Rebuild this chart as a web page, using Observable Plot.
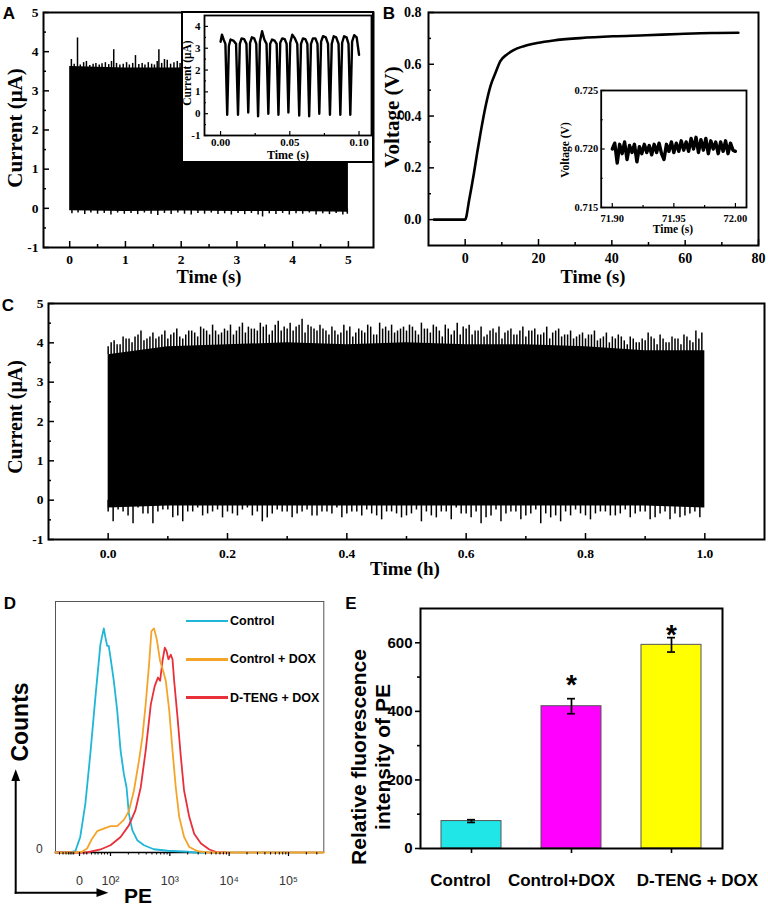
<!DOCTYPE html>
<html><head><meta charset="utf-8">
<script src="https://cdn.jsdelivr.net/npm/d3@7"></script>
<script src="https://cdn.jsdelivr.net/npm/@observablehq/plot@0.6"></script>
<style>
body{margin:0;background:#fff;}
#fig{position:relative;width:768px;height:905px;overflow:hidden;background:#fff;}
</style></head><body><div id="fig"></div>
<script>
// ---------------- DATA ----------------
// Panel A: 5 s current trace (envelope + spikes)
const aBaseT  = [0, 1, 2, 3, 4, 5];
const aBaseHi = [3.62, 3.58, 3.58, 3.60, 3.60, 3.60];
const aBaseLo = [-0.06, -0.08, -0.07, -0.08, -0.08, -0.10];
const aSpikesUp = [[0.03,3.80],[0.08,3.68],[0.14,4.35],[0.19,3.66],[0.25,3.72],[0.30,3.75],[0.36,3.65],[0.42,3.68],[0.47,3.70],[0.53,3.66],[0.58,3.69],[0.64,3.72],[0.70,3.67],[0.75,3.75],[0.79,4.05],[0.84,3.70],[0.90,3.66],[0.96,3.68],[1.02,3.72],[1.07,3.66],[1.13,3.70],[1.18,3.90],[1.24,3.67],[1.30,3.70],[1.35,3.66],[1.41,3.72],[1.47,3.68],[1.52,3.66],[1.57,3.75],[1.60,4.05],[1.65,3.70],[1.70,3.80],[1.75,3.78],[1.81,3.68],[1.87,3.72],[1.93,3.75],[1.98,3.70],[2.1,3.70],[2.3,3.68],[2.5,3.72],[2.7,3.70],[2.9,3.66],[3.1,3.70],[3.3,3.72],[3.5,3.68],[3.7,3.70],[3.9,3.66],[4.1,3.70],[4.3,3.72],[4.5,3.68],[4.7,3.70],[4.9,3.66]];
const aSpikesDn = [[0.04,-0.14],[0.15,-0.12],[0.27,-0.16],[0.38,-0.12],[0.5,-0.15],[0.62,-0.13],[0.74,-0.17],[0.86,-0.12],[0.98,-0.15],[1.1,-0.13],[1.22,-0.16],[1.34,-0.12],[1.46,-0.15],[1.58,-0.18],[1.7,-0.13],[1.82,-0.16],[1.94,-0.12],[2.06,-0.15],[2.18,-0.17],[2.3,-0.13],[2.42,-0.15],[2.54,-0.12],[2.66,-0.16],[2.78,-0.14],[2.9,-0.17],[3.02,-0.13],[3.14,-0.16],[3.26,-0.13],[3.38,-0.17],[3.46,-0.22],[3.58,-0.14],[3.7,-0.16],[3.82,-0.13],[3.94,-0.17],[4.06,-0.14],[4.18,-0.15],[4.3,-0.12],[4.42,-0.17],[4.54,-0.14],[4.66,-0.16],[4.78,-0.13],[4.9,-0.17],[4.98,-0.15]];
// Panel A inset: 0.1 s zoom
const aInT = [0.0000,0.0010,0.0022,0.0035,0.0048,0.0060,0.0072,0.0092,0.0112,0.0126,0.0139,0.0152,0.0170,0.0187,0.0200,0.0213,0.0226,0.0243,0.0258,0.0271,0.0284,0.0300,0.0316,0.0332,0.0345,0.0358,0.0372,0.0390,0.0405,0.0418,0.0431,0.0445,0.0463,0.0477,0.0490,0.0503,0.0518,0.0537,0.0554,0.0568,0.0581,0.0595,0.0612,0.0627,0.0640,0.0653,0.0667,0.0685,0.0700,0.0713,0.0726,0.0740,0.0760,0.0776,0.0790,0.0803,0.0817,0.0835,0.0852,0.0865,0.0878,0.0892,0.0910,0.0924,0.0937,0.0950,0.0965,0.0983,0.1000];
const aInI = [3.30,3.62,3.40,3.20,-0.05, 3.10,3.40,3.35,3.20,-0.05, 3.20,3.45,3.42,3.20,0.05, 3.25,3.50,3.45,3.20,-0.12, 3.30,3.78,3.40,3.20,0.00, 3.20,3.40,3.35,3.20,-0.05, 3.25,3.45,3.42,3.20,0.05, 3.25,3.62,3.45,3.20,-0.08, 3.20,3.45,3.42,3.20,-0.12, 3.20,3.45,3.45,3.20,0.00, 3.30,3.55,3.50,3.20,-0.05, 3.20,3.55,3.50,3.20,-0.05, 3.25,3.55,3.50,3.20,-0.05, 3.30,3.60,3.50,2.70];
// Panel B: voltage charging curve
const bT = [-8.5,-4,0,1.1,2.4,3.3,4.2,5.6,6.9,8.3,9.6,11.4,13.2,16,19.6,24.1,31.3,40.3,49.3,58.3,67.3,74.5];
const bV = [0,0,0,0.077,0.18,0.26,0.335,0.44,0.516,0.568,0.612,0.638,0.655,0.67,0.682,0.692,0.701,0.708,0.712,0.717,0.721,0.722];
// Panel B inset: 71.90–72.00 s, step 0.002 s
const bInStart = 71.9, bInStep = 0.002;
const bInV = [0.7200,0.7205,0.7188,0.7204,0.7196,0.7206,0.7191,0.7203,0.7197,0.7204,0.7189,0.7202,0.7196,0.7204,0.7197,0.7203,0.7195,0.7204,0.7197,0.7205,0.7196,0.7191,0.7204,0.7198,0.7206,0.7197,0.7205,0.7198,0.7207,0.7199,0.7206,0.7198,0.7209,0.7200,0.7210,0.7197,0.7208,0.7199,0.7209,0.7196,0.7207,0.7200,0.7206,0.7196,0.7206,0.7198,0.7207,0.7196,0.7205,0.7199,0.7198];
// Panel C: 1 h current trace
const cBaseT  = [0,0.1,0.2,0.3,0.4,0.5,0.6,0.7,0.8,0.9,1.0];
const cBaseHi = [3.70,3.90,3.95,4.00,3.95,4.00,3.95,3.95,3.90,3.80,3.80];
const cBaseLo = [-0.20,-0.15,-0.15,-0.15,-0.15,-0.15,-0.15,-0.15,-0.15,-0.15,-0.20];
const cUpV = [4.0,3.95,4.15,4.1,4.15, 4.3,4.1,4.25,4.15,4.3, 4.2,4.35,4.1,4.3,4.25, 4.4,4.3,4.45,4.2,4.35, 4.45,4.3,4.5,4.4,4.35, 4.5,4.45,4.3,4.55,4.4, 4.5,4.4,4.6,4.45,4.35, 4.45,4.3,4.4,4.2,4.45, 4.4,4.25,4.3,4.45,4.2, 4.5,4.4,4.45,4.3,4.4, 4.45,4.3,4.5,4.35,4.45, 4.3,4.45,4.2,4.5,4.4, 4.45,4.3,4.4,4.2,4.35, 4.4,4.25,4.35,4.2,4.4, 4.3,4.35,4.2,4.4,4.25, 4.35,4.2,4.3,4.15,4.25, 4.2,4.3,4.1,4.25,4.15, 4.2,4.05,4.15,4.0,4.1, 4.25,4.1,4.2,4.0,4.15, 4.1,4.2,4.05,4.3,4.25];
const cUpV2 = [3.9,4.05,3.95,4.1,4.0,4.2,4.05,4.15,4.1,4.2, 4.1,4.25,4.15,4.2,4.3,4.15,4.35,4.2,4.3,4.25, 4.3,4.2,4.4,4.25,4.35,4.3,4.4,4.2,4.45,4.3, 4.35,4.3,4.45,4.25,4.4,4.3,4.35,4.2,4.3,4.25, 4.3,4.15,4.35,4.25,4.4,4.2,4.35,4.3,4.25,4.35, 4.3,4.4,4.2,4.35,4.25,4.4,4.15,4.35,4.3,4.2, 4.35,4.2,4.3,4.15,4.3,4.25,4.1,4.3,4.2,4.3, 4.15,4.3,4.2,4.25,4.1,4.3,4.15,4.2,4.1,4.2, 4.1,4.2,4.05,4.15,4.0,4.1,4.15,3.95,4.1,4.0, 4.05,4.15,3.95,4.1,4.0,4.1,3.95,4.15,4.0,4.1];
const cDnV = [-0.55,-0.3,-0.6,-0.35,-0.6,-0.25,-0.45,-0.55,-0.3,-0.4, -0.3,-0.45,-0.35,-0.25,-0.4,-0.55,-0.35,-0.3,-0.45,-0.3, -0.4,-0.3,-0.35,-0.45,-0.3,-0.4,-0.35,-0.5,-0.3,-0.45, -0.35,-0.55,-0.4,-0.3,-0.5,-0.35,-0.45,-0.6,-0.4,-0.55, -0.3,-0.5,-0.35,-0.6,-0.45,-0.55,-0.4,-0.35,-0.5,-0.3, -0.4,-0.35,-0.45,-0.3,-0.5,-0.35,-0.5,-0.45,-0.35,-0.45];
const cDnV2 = [-0.3,-0.25,-0.4,-0.2,-0.35,-0.3,-0.25,-0.4,-0.3,-0.2, -0.35,-0.25,-0.3,-0.4,-0.2,-0.3,-0.45,-0.25,-0.3,-0.35, -0.25,-0.4,-0.3,-0.2,-0.35,-0.3,-0.25,-0.4,-0.3,-0.35, -0.4,-0.25,-0.3,-0.45,-0.3,-0.2,-0.35,-0.3,-0.45,-0.25, -0.35,-0.3,-0.4,-0.25,-0.35,-0.4,-0.3,-0.25,-0.4,-0.35, -0.3,-0.4,-0.25,-0.35,-0.3,-0.45,-0.3,-0.35,-0.4,-0.3];
// Panel D: flow cytometry histograms (x in display channel units, 2 = 10^2)
const dSeries = ["Control", "Control + DOX", "D-TENG + DOX"];
const dCyanX = [1.07,1.30,1.407,1.49,1.576,1.66,1.745,1.83,1.887,1.915,1.944,1.97,2.0,2.056,2.113,2.17,2.225,2.27,2.31,2.367,2.45,2.565,2.73,2.96,3.3,3.41,3.6];
const dCyanY = [0,0,0.5,6.2,19.4,39.3,61.8,82.9,89.3,85.6,82.3,82.3,77.6,68.4,56.5,40.6,31.3,26,15.5,8.9,4.9,2.9,1.3,0.7,0.3,0,0];
const dOrangeX = [1.073,1.40,1.52,1.605,1.69,1.775,1.887,2.0,2.113,2.225,2.31,2.395,2.48,2.537,2.593,2.65,2.69,2.734,2.78,2.836,2.887,2.932,2.99,3.045,3.1,3.158,3.24,3.327,3.47,3.64,5.595];
const dOrangeY = [0,0,0.3,1.6,5.5,8.5,9.5,10.5,10.5,13,16.5,24.7,36.6,45.9,59.1,75,88.2,89.3,84.9,76.3,72.4,68.4,56.5,40.6,26,14.2,6.2,2.2,0.5,0,0];
const dRedX = [1.073,1.60,1.66,1.83,2.0,2.17,2.31,2.42,2.51,2.593,2.68,2.746,2.8,2.836,2.876,2.915,2.944,2.977,3.017,3.045,3.073,3.13,3.186,3.24,3.327,3.41,3.525,3.666,3.81,3.95];
const dRedY = [0,0,0.3,1.2,2.9,6.2,10.8,16.8,26,40.6,59.1,66.4,69.7,68.4,76.3,81.6,80.3,77,78.8,77,68.4,53.8,38,24.7,14.2,7.5,3.6,1.2,0,0];
const dMajTicks = [1.4775, 2, 3, 4, 5];
const dMajLabels = ["0", "10\u00B2", "10\u00B3", "10\u2074", "10\u2075"];
const dLowTicks = [1.14,1.20,1.25,1.29,1.32,1.35,1.38,1.55,1.60,1.68,1.74,1.79,1.85,1.90,1.95];
// Panel E: bar chart
const eCats = ["Control", "Control+DOX", "D-TENG + DOX"];
const eVals = [80, 415, 594];
const eErr  = [4, 22, 21];
const eStar = [null, 497, 644];

// ---------------- STYLE ----------------
const serif = '"Liberation Serif","Times New Roman",serif';
const sans = '"Liberation Sans",Arial,Helvetica,sans-serif';
const dColors = ["#1fb6d8", "#f5a42a", "#e8303a"];
const eColors = ["#20e6e8", "#ff00ff", "#ffff00"];
const eLabelShift = [-11, -10, 26];

const fig = document.getElementById("fig");
function put(node, left, top, font, weight = "bold") {
  node.style.position = "absolute";
  node.style.left = left + "px";
  node.style.top = top + "px";
  if (font) {
    node.setAttribute("font-family", font);
    node.style.fontFamily = font;
    node.querySelectorAll("text").forEach(t => {
      t.style.fontFamily = font;
      if (!t.closest("[font-weight='normal']") && weight) t.style.fontWeight = weight;
    });
  }
  fig.appendChild(node);
  return node;
}
function label(text, x, y, {font = serif, size = 18, rotate = false, weight = "bold", color = "#000"} = {}) {
  const d = document.createElement("div");
  d.textContent = text;
  d.style.cssText = `position:absolute;left:${x}px;top:${y}px;font-family:${font};font-size:${size}px;font-weight:${weight};color:${color};white-space:nowrap;line-height:1;transform:translate(-50%,-50%)${rotate ? " rotate(-90deg)" : ""};`;
  fig.appendChild(d);
}
const pStyle = (font, bg = "transparent") => `font-family:${font};font-weight:bold;background:${bg};color:#000;overflow:visible;`;
const blank = () => "";
function inAxes({xMaj, xMin, yMaj, yMin, xFmt, yFmt, fs, tick = 6, minor = 3, xPad, yPad, sw = 1.5}) {
  return [
    Plot.axisX({ticks: xMaj, tickSize: -tick, tickPadding: xPad, tickFormat: xFmt, fontSize: fs, fontWeight: "bold", strokeWidth: sw, label: null}),
    Plot.axisX({ticks: xMin, tickSize: -minor, tickFormat: blank, strokeWidth: sw, label: null}),
    Plot.axisY({ticks: yMaj, tickSize: -tick, tickPadding: yPad, tickFormat: yFmt, fontSize: fs, fontWeight: "bold", strokeWidth: sw, label: null}),
    Plot.axisY({ticks: yMin, tickSize: -minor, tickFormat: blank, strokeWidth: sw, label: null})
  ];
}

// ---------------- PANEL A ----------------
const aBase = aBaseT.map((t, i) => ({t, lo: aBaseLo[i], hi: aBaseHi[i]}));
const A = Plot.plot({
  width: 380, height: 300, marginLeft: 43, marginRight: 7, marginTop: 12, marginBottom: 53,
  x: {domain: [-0.47, 5.45], label: null}, y: {domain: [-1, 5], label: null},
  style: pStyle(serif),
  marks: [
    Plot.areaY(aBase, {x: "t", y1: "lo", y2: "hi", fill: "#000"}),
    Plot.ruleX(aSpikesUp, {x: d => d[0], y1: 3.5, y2: d => d[1], strokeWidth: 1.5}),
    Plot.ruleX(aSpikesDn, {x: d => d[0], y1: 0, y2: d => d[1], strokeWidth: 1.5}),
    ...inAxes({xMaj: [0,1,2,3,4,5], xMin: [0.5,1.5,2.5,3.5,4.5], yMaj: [-1,0,1,2,3,4,5], yMin: [-0.5,0.5,1.5,2.5,3.5,4.5],
      xFmt: d => String(d), yFmt: d => String(d), fs: 13.5, xPad: 13.2, yPad: 11}),
    Plot.frame({strokeWidth: 2})
  ]
});
put(A, 0, 0, serif);

// A inset
const aIn = aInT.map((t, i) => ({t, v: aInI[i]}));
const AI = Plot.plot({
  width: 191, height: 150, marginLeft: 22, marginRight: 2, marginTop: 3, marginBottom: 27,
  x: {domain: [-0.0116, 0.109], label: null}, y: {domain: [-1, 4.5], label: null},
  style: pStyle(serif, "#fff"),
  marks: [
    Plot.line(aIn, {x: "t", y: "v", strokeWidth: 2.4, strokeLinejoin: "round"}),
    ...inAxes({xMaj: [0, 0.05, 0.1], xMin: [0.025, 0.075], yMaj: [-1,0,1,2,3,4], yMin: [-0.5,0.5,1.5,2.5,3.5],
      xFmt: d3.format(".2f"), yFmt: d => String(d), fs: 11, tick: 4, minor: 2, xPad: 7, yPad: 8, sw: 1.2}),
    Plot.frame({strokeWidth: 1.8})
  ]
});
AI.style.outline = "2px solid #000";
AI.style.outlineOffset = "-1px";
put(AI, 182, 12, serif);

// ---------------- PANEL B ----------------
const bData = bT.map((t, i) => ({t, v: bV[i]}));
const B = Plot.plot({
  width: 388, height: 300, marginLeft: 48, marginRight: 10, marginTop: 12, marginBottom: 55,
  x: {domain: [-10, 80], label: null}, y: {domain: [-0.1, 0.8], label: null},
  style: pStyle(serif),
  marks: [
    Plot.line(bData, {x: "t", y: "v", strokeWidth: 2.6, curve: "monotone-x"}),
    ...inAxes({xMaj: [0,20,40,60,80], xMin: [10,30,50,70], yMaj: [0,0.2,0.4,0.6,0.8], yMin: [0.1,0.3,0.5,0.7],
      xFmt: d => String(d), yFmt: d3.format(".1f"), fs: 14, xPad: 13.8, yPad: 13}),
    Plot.frame({strokeWidth: 2})
  ]
});
put(B, 380, 0, serif);

// B inset
const bIn = bInV.map((v, i) => ({t: bInStart + i * bInStep, v}));
const BI = Plot.plot({
  width: 205, height: 155, marginLeft: 50.7, marginRight: 9, marginTop: 5, marginBottom: 33,
  x: {domain: [71.891, 72.009], label: null}, y: {domain: [0.715, 0.725], label: null},
  style: pStyle(serif, "#fff"),
  marks: [
    Plot.line(bIn, {x: "t", y: "v", strokeWidth: 3.4}),
    ...inAxes({xMaj: [71.9, 71.95, 72.0], xMin: [71.925, 71.975], yMaj: [0.715, 0.72, 0.725], yMin: [0.7175, 0.7225],
      xFmt: d3.format(".2f"), yFmt: d3.format(".3f"), fs: 10.5, tick: 4, minor: 2, xPad: 11, yPad: 7, sw: 1.2}),
    Plot.frame({strokeWidth: 1.8})
  ]
});
put(BI, 550, 85, serif);

// ---------------- PANEL C ----------------
const cBase = cBaseT.map((t, i) => ({t, lo: cBaseLo[i], hi: cBaseHi[i]}));
const cUp = cUpV.map((v, i) => ({t: (i + 0.5) / cUpV.length, v}));
const cUp2 = cUpV2.map((v, i) => ({t: i / cUpV2.length, v}));
const cDn = cDnV.map((v, i) => ({t: (i + 0.5) / cDnV.length, v}));
const cDn2 = cDnV2.map((v, i) => ({t: i / cDnV2.length, v}));
const C = Plot.plot({
  width: 768, height: 300, marginLeft: 48, marginRight: 4, marginTop: 13, marginBottom: 51,
  x: {domain: [-0.1, 1.1], label: null}, y: {domain: [-1, 5], label: null},
  style: pStyle(serif),
  marks: [
    Plot.areaY(cBase, {x: "t", y1: "lo", y2: "hi", fill: "#000"}),
    Plot.ruleX(cUp, {x: "t", y1: 3.7, y2: "v", strokeWidth: 1.5}),
    Plot.ruleX(cUp2, {x: "t", y1: 3.7, y2: "v", strokeWidth: 1.5}),
    Plot.ruleX(cDn, {x: "t", y1: 0, y2: "v", strokeWidth: 1.5}),
    Plot.ruleX(cDn2, {x: "t", y1: 0, y2: "v", strokeWidth: 1.5}),
    ...inAxes({xMaj: [0,0.2,0.4,0.6,0.8,1.0], xMin: [0.1,0.3,0.5,0.7,0.9], yMaj: [-1,0,1,2,3,4,5], yMin: [-0.5,0.5,1.5,2.5,3.5,4.5],
      xFmt: d3.format(".1f"), yFmt: d => String(d), fs: 13.5, xPad: 15, yPad: 11}),
    Plot.frame({strokeWidth: 2})
  ]
});
put(C, 0, 290, serif);

// ---------------- PANEL D ----------------
const mk = (xs, ys) => xs.map((x, i) => ({x, y: ys[i]}));
const dMinor = [...dLowTicks];
for (const k of [2, 3, 4, 5]) for (const m of [2,3,4,5,6,7,8,9]) { const p = k + Math.log10(m); if (p < 5.595) dMinor.push(p); }
const dLabelMap = new Map(dMajTicks.map((t, i) => [t, dMajLabels[i]]));
const D = Plot.plot({
  width: 330, height: 300, marginLeft: 55, marginRight: 6.7, marginTop: 11, marginBottom: 38,
  x: {domain: [1.073, 5.595], label: null}, y: {domain: [0, 100], label: null},
  style: pStyle(sans).replace("font-weight:bold;", "font-weight:normal;"),
  marks: [
    Plot.frame({stroke: "#555", strokeWidth: 1}),
    Plot.ruleY([0], {strokeWidth: 1.6}),
    Plot.line(mk(dCyanX, dCyanY), {x: "x", y: "y", stroke: dColors[0], strokeWidth: 1.8}),
    Plot.line(mk(dRedX, dRedY), {x: "x", y: "y", stroke: dColors[2], strokeWidth: 1.8}),
    Plot.line(mk(dOrangeX, dOrangeY), {x: "x", y: "y", stroke: dColors[1], strokeWidth: 1.8}),
    Plot.axisX({ticks: dMajTicks, tickSize: 4, tickPadding: 19.5, tickFormat: d => dLabelMap.get(d), fontSize: 12.5, fontWeight: "normal", fill: "#333", strokeWidth: 1.2, label: null}),
    Plot.axisX({ticks: dMinor, tickSize: 2.5, tickFormat: blank, strokeWidth: 1, label: null}),
    Plot.axisY({ticks: [0], tickSize: 0, tickPadding: 12.8, fontSize: 12, fontWeight: "normal", fill: "#333", dy: -3, label: null})
  ]
});
put(D, 0, 590, sans, "normal");

// ---------------- PANEL E ----------------
const eRows = eCats.map((cat, i) => ({cat, v: eVals[i], e: eErr[i], star: eStar[i]}));
const E = Plot.plot({
  width: 388, height: 315, marginLeft: 40, marginRight: 46, marginTop: 18, marginBottom: 57,
  x: {domain: eCats, paddingInner: 0.396, paddingOuter: 0.198, label: null},
  y: {domain: [0, 700], label: null},
  color: {domain: eCats, range: eColors},
  style: pStyle(sans),
  marks: [
    Plot.barY(eRows, {x: "cat", y: "v", fill: "cat", stroke: "#555", strokeWidth: 1}),
    Plot.ruleX(eRows, {x: "cat", y1: d => d.v - d.e, y2: d => d.v + d.e, strokeWidth: 1.7}),
    Plot.tickY(eRows, {x: "cat", y: d => d.v + d.e, insetLeft: 26, insetRight: 26, strokeWidth: 1.7}),
    Plot.tickY(eRows, {x: "cat", y: d => d.v - d.e, insetLeft: 26, insetRight: 26, strokeWidth: 1.7}),
    Plot.text(eRows.filter(d => d.star != null), {x: "cat", y: "star", text: () => "*", fontSize: 28, fontWeight: "bold", dy: 7}),
    Plot.axisY({ticks: [0,200,400,600], tickSize: 5, tickPadding: 3, fontSize: 15, fontWeight: "bold", strokeWidth: 1.6, label: null}),
    Plot.axisY({ticks: [100,300,500], tickSize: 3, tickFormat: blank, strokeWidth: 1.6, label: null}),
    Plot.axisX({tickSize: 5, tickFormat: blank, strokeWidth: 1.6, label: null}),
    ...eCats.map((c, i) => Plot.axisX({ticks: [c], tickSize: 0, tickPadding: 25.7, dx: eLabelShift[i], fontSize: 17, fontWeight: "bold", label: null})),
    Plot.frame({strokeWidth: 2})
  ]
});
put(E, 380, 590, sans);

// ---------------- TEXT (titles, letters, legend) ----------------
label("A", 9, 13, {font: sans, size: 17});
label("B", 389, 13, {font: sans, size: 17});
label("C", 8, 305, {font: sans, size: 17});
label("D", 10, 603, {font: sans, size: 17});
label("E", 351, 603, {font: sans, size: 17});

label("Current (\u03BCA)", 15, 128, {size: 21, rotate: true});
label("Time (s)", 209, 277, {size: 18.5});
label("Current (\u03BCA)", 188, 73, {size: 11.5, rotate: true});
label("Time (s)", 288, 155, {size: 12});

label("Voltage (V)", 392, 117, {size: 21, rotate: true});
label("Time (s)", 593, 277, {size: 18.5});
label("Voltage (V)", 566, 150, {size: 11.5, rotate: true});
label("Time (s)", 673, 230, {size: 11.5});

label("Current (\u03BCA)", 15, 417, {size: 20, rotate: true});
label("Time (h)", 405, 568, {size: 19});

label("Counts", 20, 722, {font: sans, size: 23, rotate: true});
label("PE", 138, 895, {font: sans, size: 21});

label("Relative fluorescence", 358, 757, {font: sans, size: 21, rotate: true});
label("intensity of PE", 382, 757, {font: sans, size: 21, rotate: true});

// D legend
const legY = [621, 659.3, 697.7];
dSeries.forEach((name, i) => {
  const ln = document.createElement("div");
  ln.style.cssText = `position:absolute;left:186px;top:${legY[i] - 1.3}px;width:42px;height:2.6px;background:${dColors[i]};`;
  fig.appendChild(ln);
  const t = document.createElement("div");
  t.textContent = name;
  t.style.cssText = `position:absolute;left:230px;top:${legY[i]}px;transform:translateY(-50%);font-family:${sans};font-weight:bold;font-size:12.5px;line-height:1;white-space:nowrap;color:#000;`;
  fig.appendChild(t);
});

// D arrows (Counts / PE)
const ns = "http://www.w3.org/2000/svg";
const arr = document.createElementNS(ns, "svg");
arr.setAttribute("width", 130); arr.setAttribute("height", 145);
arr.innerHTML = `<line x1="15.7" y1="133.7" x2="15.7" y2="19" stroke="#000" stroke-width="2"/>
<polygon points="15.7,9.3 11.3,21 20.1,21" fill="#000"/>
<line x1="14.7" y1="132.7" x2="98" y2="132.7" stroke="#000" stroke-width="2"/>
<polygon points="108.3,132.7 96.5,128.3 96.5,137.1" fill="#000"/>`;
put(arr, 0, 760);
</script></body></html>
